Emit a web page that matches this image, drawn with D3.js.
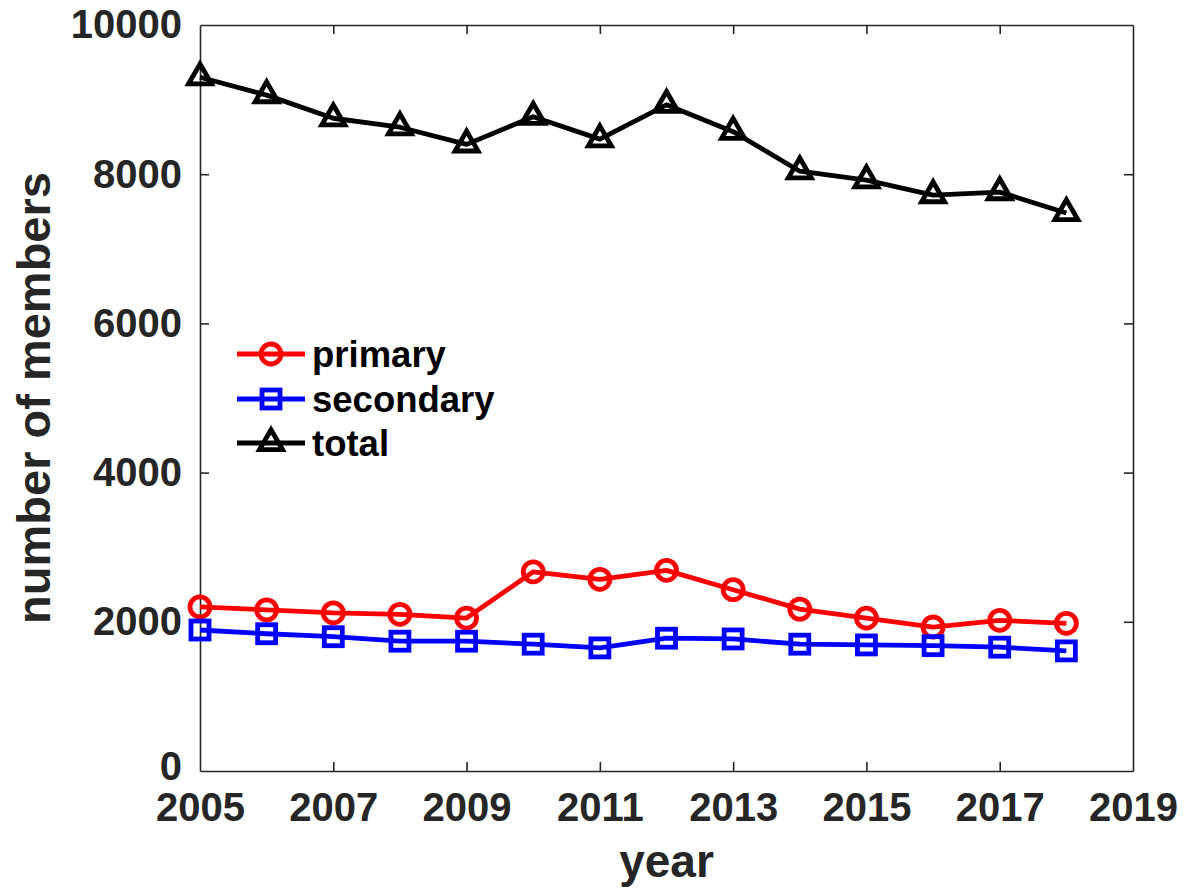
<!DOCTYPE html>
<html><head><meta charset="utf-8">
<script src="https://cdn.jsdelivr.net/npm/d3@7"></script>
<style>html,body{margin:0;padding:0;background:#fff;}</style>
</head><body>
<script>
const years = [2005,2006,2007,2008,2009,2010,2011,2012,2013,2014,2015,2016,2017,2018];
const primary = [2200,2160,2120,2100,2050,2670,2570,2690,2430,2170,2050,1930,2020,1980];
const secondary = [1890,1840,1800,1740,1740,1700,1650,1780,1770,1700,1690,1680,1660,1610];
const total = [9300,9060,8750,8630,8400,8770,8470,8930,8570,8040,7920,7720,7760,7480];
const xTicks = [2005,2007,2009,2011,2013,2015,2017,2019];
const yTicks = [0,2000,4000,6000,8000,10000];
const seriesNames = ["primary","secondary","total"];

const W = 1186, H = 894;
const L = 200, R = 1133, T = 25, B = 771;
const ink = "#262626";
const font = "Liberation Sans, Arial, Helvetica, sans-serif";

const svg = d3.select("body").append("svg").attr("width", W).attr("height", H);
const x = d3.scaleLinear().domain([2005, 2019]).range([L, R]);
const y = d3.scaleLinear().domain([0, 10000]).range([B, T]);

const tk = 9;
const axB = svg.append("g").attr("transform", `translate(0,${B})`)
  .call(d3.axisBottom(x).tickValues(xTicks).tickFormat(d3.format("d")).tickSizeInner(-tk).tickSizeOuter(0).tickPadding(22));
const axT = svg.append("g").attr("transform", `translate(0,${T})`)
  .call(d3.axisTop(x).tickValues(xTicks).tickFormat("").tickSizeInner(-tk).tickSizeOuter(0));
const axL = svg.append("g").attr("transform", `translate(${L},0)`)
  .call(d3.axisLeft(y).tickValues(yTicks).tickFormat(d3.format("d")).tickSizeInner(-tk).tickSizeOuter(0).tickPadding(18));
const axR = svg.append("g").attr("transform", `translate(${R},0)`)
  .call(d3.axisRight(y).tickValues(yTicks).tickFormat("").tickSizeInner(-tk).tickSizeOuter(0));
[axB, axT, axL, axR].forEach(g => {
  g.select(".domain").attr("stroke", ink).attr("stroke-width", 1.6);
  g.selectAll(".tick line").attr("stroke", ink).attr("stroke-width", 1.6);
  g.selectAll(".tick text").attr("fill", ink).attr("font-family", font)
    .attr("font-weight", "bold").attr("font-size", 40);
});
axB.selectAll(".tick text").attr("dy", "0.71em");
axL.selectAll(".tick text").filter(d => d === 0).attr("dy", "0.2em");
[axB, axT].forEach(g => g.selectAll(".tick line").filter(d => d === 2005 || d === 2019).remove());
[axL, axR].forEach(g => g.selectAll(".tick line").filter(d => d === 0 || d === 10000).remove());

svg.append("text").attr("x", (L + R) / 2).attr("y", 877).attr("text-anchor", "middle")
  .attr("font-family", font).attr("font-weight", "bold").attr("font-size", 46).attr("fill", ink).text("year");
svg.append("text").attr("transform", `translate(50,${(T + B) / 2 + 0}) rotate(-90)`).attr("text-anchor", "middle")
  .attr("font-family", font).attr("font-weight", "bold").attr("font-size", 47).attr("fill", ink).text("number of members");

const colors = ["#ff0000", "#0000ff", "#000000"];
const data = [primary, secondary, total];
const lw = 4.8;

function marker(g, kind, cx, cy, color) {
  if (kind === 0) {
    g.append("circle").attr("cx", cx).attr("cy", cy).attr("r", 10)
      .attr("fill", "none").attr("stroke", color).attr("stroke-width", lw);
  } else if (kind === 1) {
    const s = 18;
    g.append("rect").attr("x", cx - s / 2).attr("y", cy - s / 2).attr("width", s).attr("height", s)
      .attr("fill", "none").attr("stroke", color).attr("stroke-width", lw);
  } else {
    const s = 23, h = s * Math.sqrt(3) / 2;
    g.append("path").attr("d", `M${cx},${cy - 2 * h / 3}L${cx + s / 2},${cy + h / 3}L${cx - s / 2},${cy + h / 3}Z`)
      .attr("fill", "none").attr("stroke", color).attr("stroke-width", lw).attr("stroke-linejoin", "miter");
  }
}

const line = d3.line().x((d, i) => x(years[i])).y(d => y(d));
data.forEach((vals, k) => {
  const g = svg.append("g");
  g.append("path").datum(vals).attr("d", line).attr("fill", "none")
    .attr("stroke", colors[k]).attr("stroke-width", lw).attr("stroke-linejoin", "round");
  vals.forEach((v, i) => marker(g, k, x(years[i]), y(v), colors[k]));
});

const legY = [354, 399, 443];
seriesNames.forEach((name, k) => {
  const g = svg.append("g");
  g.append("line").attr("x1", 237).attr("x2", 305).attr("y1", legY[k]).attr("y2", legY[k])
    .attr("stroke", colors[k]).attr("stroke-width", lw);
  marker(g, k, 271, legY[k], colors[k]);
  g.append("text").attr("x", 312).attr("y", legY[k]).attr("dy", "0.35em")
    .attr("font-family", font).attr("font-weight", "bold").attr("font-size", 36.5).attr("fill", "#000").text(name);
});
</script>
</body></html>
